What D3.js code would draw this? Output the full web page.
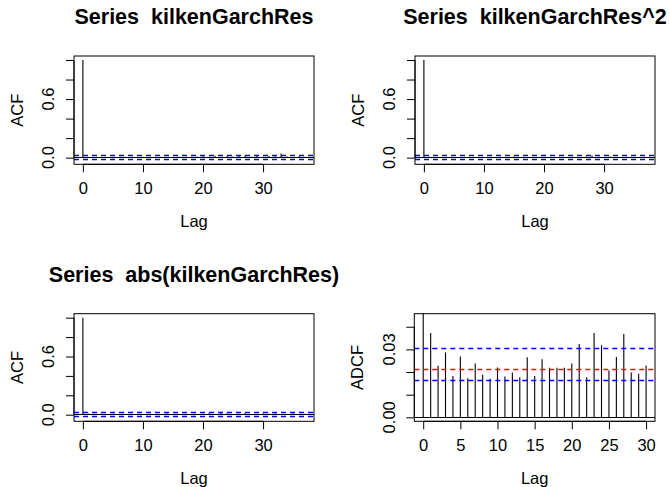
<!DOCTYPE html>
<html>
<head>
<meta charset="utf-8">
<script src="https://cdn.jsdelivr.net/npm/d3@7"></script>
<style>
  html, body { margin: 0; padding: 0; background: #fff; }
  svg { display: block; font-family: "Liberation Sans", Arial, Helvetica, sans-serif; }
  text.title { white-space: pre; }
</style>
</head>
<body>
<svg id="chart" width="670" height="487"></svg>
<script>
// Autocorrelations of the GARCH residuals, lags 0..37
const acfRes = [1, 0.006, -0.004, 0.003, 0.007, -0.005, 0.004, 0.009, -0.002, 0.005,
  0.008, -0.006, 0.004, 0.010, 0.006, -0.003, 0.012, 0.007, 0.009, 0.011,
  0.016, 0.010, 0.019, 0.008, 0.020, 0.013, 0.017, 0.021, 0.011, 0.018,
  0.009, 0.016, 0.014, 0.042, 0.012, 0.007, 0.015, 0.010];
const acfSq = [1, 0.008, 0.004, -0.003, 0.006, 0.002, -0.004, 0.005, 0.003, -0.002,
  0.004, 0.007, -0.003, 0.002, 0.006, 0.011, 0.003, -0.002, 0.005, 0.004,
  0.008, 0.002, -0.003, 0.006, 0.004, 0.009, 0.007, 0.012, 0.022, 0.010,
  0.005, 0.013, 0.006, 0.003, 0.009, 0.004, -0.002, 0.006];
const acfAbs = [1, 0.012, 0.006, 0.009, 0.004, 0.010, 0.003, 0.008, 0.005, 0.004,
  0.007, 0.005, 0.006, 0.004, 0.015, 0.006, 0.010, 0.007, 0.008, 0.007,
  0.009, 0.016, 0.004, 0.017, 0.014, 0.006, 0.011, 0.018, 0.006, 0.008,
  0.012, 0.009, 0.016, 0.007, 0.010, 0.015, 0.006, 0.009];
// Auto distance correlation of the residuals, lags 0..30
const adcf = [1, 0.0372, 0.0228, 0.0286, 0.0183, 0.0269, 0.0173, 0.0238, 0.0188, 0.0170,
  0.0220, 0.0180, 0.0198, 0.0177, 0.0265, 0.0183, 0.0256, 0.0219, 0.0219, 0.0219,
  0.0238, 0.0324, 0.0177, 0.0372, 0.0318, 0.0207, 0.0266, 0.0368, 0.0198, 0.0192,
  0.0229];

const acfBand = [-0.0235, 0.0235];
const adcfBlue = [0.0302, 0.0162];
const adcfRed = [0.0211];

const acfTicksX = [0, 10, 20, 30];
const acfTicksY = [0, 0.2, 0.4, 0.6, 0.8, 1.0];
const acfLabelsY = ["0.0", "0.6"];
const adcfTicksX = [0, 5, 10, 15, 20, 25, 30];
const adcfTicksY = [0, 0.01, 0.02, 0.03, 0.04];
const adcfLabelsY = ["0.00", "0.03"];

const titles = ["Series  kilkenGarchRes", "Series  kilkenGarchRes^2", "Series  abs(kilkenGarchRes)"];

const svg = d3.select("#chart");
const axisFont = 16.5, titleFont = 21.5;

// R-style 4% axis extension
function extend(lo, hi) { const r = hi - lo; return [lo - 0.04 * r, hi + 0.04 * r]; }
// centre a horizontal line on a pixel row
const crisp = v => Math.round(v - 0.5) + 0.5;

function panel(cfg) {
  const { left, right, top, bottom } = cfg.box;
  const x = d3.scaleLinear().domain(extend(0, cfg.values.length - 1)).range([left, right]);
  const y = d3.scaleLinear().domain(extend(cfg.ylim[0], cfg.ylim[1])).range([bottom, top]);
  const g = svg.append("g");
  const clipId = "clip" + cfg.id;
  svg.append("clipPath").attr("id", clipId).append("rect")
    .attr("x", left).attr("y", top).attr("width", right - left).attr("height", bottom - top);

  const plot = g.append("g").attr("clip-path", `url(#${clipId})`);
  // spikes
  plot.selectAll("line.spike").data(cfg.values).enter().append("line")
    .attr("class", "spike")
    .attr("x1", (d, i) => x(i)).attr("x2", (d, i) => x(i))
    .attr("y1", y(0)).attr("y2", d => y(d))
    .attr("stroke", "#000").attr("stroke-width", 1.1);
  // zero line
  plot.append("line").attr("x1", left).attr("x2", right)
    .attr("y1", crisp(y(0))).attr("y2", crisp(y(0))).attr("stroke", "#000").attr("stroke-width", 1.2);
  // reference lines, drawn on top of the spikes
  cfg.refs.forEach(r => {
    r.vals.forEach(v => {
      plot.append("line").attr("x1", left).attr("x2", right)
        .attr("y1", crisp(y(v))).attr("y2", crisp(y(v)))
        .attr("stroke", r.color).attr("stroke-width", 1.4).attr("stroke-dasharray", "5,4");
    });
  });

  // frame
  g.append("rect").attr("x", left).attr("y", top)
    .attr("width", right - left).attr("height", bottom - top)
    .attr("fill", "none").attr("stroke", "#000").attr("stroke-width", 1);

  // x axis
  const xa = d3.axisBottom(x).tickValues(cfg.xticks).tickSize(8).tickPadding(10).tickFormat(d3.format("d"));
  const gx = g.append("g").attr("transform", `translate(0,${bottom})`).call(xa);
  gx.select(".domain").attr("d", `M${x(cfg.xticks[0])},0H${x(cfg.xticks[cfg.xticks.length - 1])}`);
  gx.selectAll("text").attr("font-size", axisFont).attr("font-family", null).attr("fill", "#000");
  gx.selectAll("line,path").attr("stroke", "#000");

  // y axis
  const ya = d3.axisLeft(y).tickValues(cfg.yticks).tickSize(8).tickFormat("");
  const gy = g.append("g").attr("transform", `translate(${left},0)`).call(ya);
  gy.select(".domain").attr("d", `M0,${y(cfg.yticks[0])}V${y(cfg.yticks[cfg.yticks.length - 1])}`);
  gy.selectAll("line,path").attr("stroke", "#000");
  cfg.ylabels.forEach(lbl => {
    g.append("text")
      .attr("transform", `translate(${left - 25.5},${y(+lbl)}) rotate(-90)`)
      .attr("text-anchor", "middle").attr("dy", "0.35em")
      .attr("font-size", axisFont).text(lbl);
  });

  const cx = (left + right) / 2;
  // axis titles
  g.append("text").attr("x", cx).attr("y", bottom + 63)
    .attr("text-anchor", "middle").attr("font-size", axisFont).text("Lag");
  g.append("text")
    .attr("transform", `translate(${left - 57},${(top + bottom) / 2}) rotate(-90)`)
    .attr("text-anchor", "middle").attr("dy", "0.35em")
    .attr("font-size", axisFont).text(cfg.ylab);
  if (cfg.title) {
    g.append("text").attr("class", "title").attr("x", cx).attr("y", top - 32)
      .attr("text-anchor", "middle").attr("font-size", titleFont)
      .attr("font-weight", "bold").text(cfg.title);
  }
}

panel({ id: 1, box: { left: 74, right: 314, top: 56, bottom: 164.3 }, values: acfRes,
  ylim: [-0.027, 1.0], xticks: acfTicksX, yticks: acfTicksY, ylabels: acfLabelsY,
  refs: [{ vals: acfBand, color: "#0000FF" }], ylab: "ACF", title: titles[0] });
panel({ id: 2, box: { left: 415, right: 655, top: 56, bottom: 164.3 }, values: acfSq,
  ylim: [-0.027, 1.0], xticks: acfTicksX, yticks: acfTicksY, ylabels: acfLabelsY,
  refs: [{ vals: acfBand, color: "#0000FF" }], ylab: "ACF", title: titles[1] });
panel({ id: 3, box: { left: 74, right: 314, top: 313.7, bottom: 421.3 }, values: acfAbs,
  ylim: [-0.027, 1.0], xticks: acfTicksX, yticks: acfTicksY, ylabels: acfLabelsY,
  refs: [{ vals: acfBand, color: "#0000FF" }], ylab: "ACF", title: titles[2] });
panel({ id: 4, box: { left: 414.3, right: 655, top: 313.7, bottom: 421.3 }, values: adcf,
  ylim: [0, 0.044], xticks: adcfTicksX, yticks: adcfTicksY, ylabels: adcfLabelsY,
  refs: [{ vals: adcfBlue, color: "#0000FF" }, { vals: adcfRed, color: "#FF0000" }],
  ylab: "ADCF", title: null });
</script>
</body>
</html>
